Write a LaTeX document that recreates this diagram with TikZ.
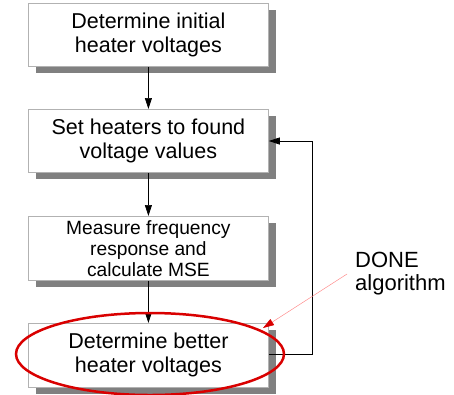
\documentclass[tikz,border=0pt]{standalone}
\usepackage{fontspec}
\setmainfont{Liberation Sans}
\usetikzlibrary{arrows.meta,shapes.geometric}
\begin{document}
\begin{tikzpicture}[x=1pt,y=-1pt,
  stepbox/.style={draw=gray!60, line width=0.8pt, fill=white, minimum width=240pt, minimum height=63pt, inner sep=0pt, align=center, font=\fontsize{21.5}{24}\selectfont, anchor=north west},
  conn/.style={-{Triangle[length=11pt,width=7pt]}, line width=0.7pt},
  shadow/.style={fill=black!50, draw=none}]
\useasboundingbox (0,0) rectangle (454,394);
% shadows
\fill[shadow] (36,10) rectangle (276,73);
\fill[shadow] (36,116) rectangle (276,179);
\fill[shadow] (36,223) rectangle (276,287);
\fill[shadow] (36,330) rectangle (276,394);
% boxes
\node[stepbox] (b1) at (28,3) {Determine initial\\heater voltages};
\node[stepbox] (b2) at (28,109) {Set heaters to found\\voltage values};
\node[stepbox, minimum height=64pt, font=\fontsize{19.2}{21}\selectfont] (b3) at (28,216) {Measure frequency\\response and\\calculate MSE};
\node[stepbox, minimum height=64pt] (b4) at (28,323) {Determine better\\heater voltages};
% connectors
\draw[conn] (b1.south) -- (b2.north);
\draw[conn] (b2.south) -- (b3.north);
\draw[conn] (b3.south) -- (b4.north);
\coordinate (fb) at (312,354);
\draw[conn] (b4.east |- fb) -- (fb) -- (312,141) -- (b2.east |- 0,141);
% highlight ellipse
\node[ellipse, draw=red!85!black, line width=2.5pt, minimum width=268pt, minimum height=82pt] (hl) at (150,354) {};
% label
\node[anchor=north west, align=left, inner sep=0pt, font=\fontsize{22}{23}\selectfont] (lab) at (355,252) {DONE\\algorithm};
\coordinate (ls) at (347,274);
\coordinate (tip) at (263,328);
\draw[red!45, line width=0.5pt, -{Triangle[length=11pt,width=7pt,color=red!85!black]}] (ls) -- (tip);
\end{tikzpicture}
\end{document}
